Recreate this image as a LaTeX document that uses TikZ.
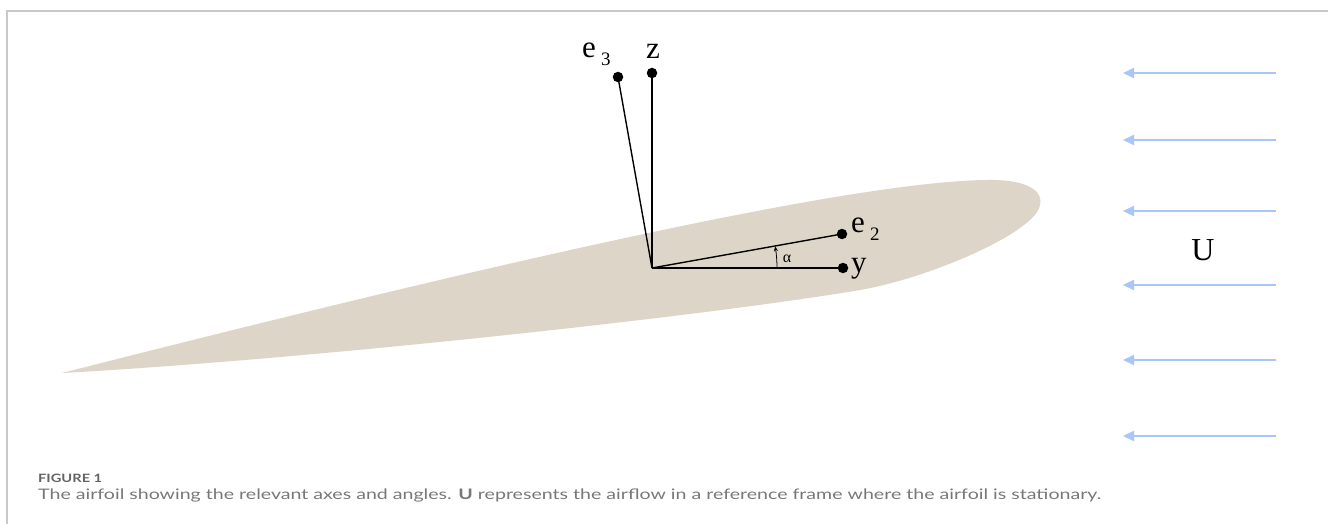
\documentclass[tikz,border=0pt]{standalone}
\usepackage{fontspec}
\usepackage{graphicx}
\setmainfont{Liberation Serif}
\newfontfamily\capfont{Lato}
\usetikzlibrary{arrows.meta}
\definecolor{foil}{RGB}{221,214,200}
\definecolor{flowblue}{RGB}{168,198,250}
\definecolor{framegray}{RGB}{200,200,200}
\definecolor{capgray}{RGB}{120,120,120}
\definecolor{figgray}{RGB}{100,100,100}
\newcommand\subs[1]{\raisebox{-8pt}{\fontsize{19}{19}\selectfont#1}}
\begin{document}
\begin{tikzpicture}[x=1pt,y=-1pt,
  axis/.style={line width=1.4pt, black},
  dot/.style={circle, fill=black, inner sep=0pt, minimum size=10.5pt},
  lbl/.style={font=\fontsize{31}{31}\selectfont, inner sep=0pt},
  flow/.style={line width=2.2pt, flowblue, -{Triangle[length=11pt,width=10pt]}},
]
\useasboundingbox (0,0) rectangle (1328,524);
\fill[white] (0,0) rectangle (1328,524);
\draw[framegray, line width=1.5pt] (7,524) -- (7,11) -- (1328,11);
% airfoil
\fill[foil] (62,373) .. controls (420,282) and (850,178) .. (995,180)
  .. controls (1033,181) and (1043,194) .. (1040,205)
  .. controls (1036,232) and (930,278) .. (860,290)
  .. controls (700,317) and (300,360) .. (62,373) -- cycle;
% axes
\coordinate (O) at (652,268);
\node[dot] (zd) at (652,73) {};
\node[dot] (e3d) at (618,77) {};
\node[dot] (e2d) at (842,234) {};
\node[dot] (yd) at (843,268) {};
\draw[axis] (O) -- (zd.center);
\draw[axis] (O) -- (e3d.center);
\draw[axis] (O) -- (e2d.center);
\draw[axis] (O) -- (yd.center);
\draw[line width=0.8pt, -{Stealth[length=5pt,width=4pt]}] ([shift={(125,0)}]O) arc[start angle=0, end angle=-10, radius=125];
\node[font=\fontsize{16}{16}\selectfont, inner sep=0pt] (al) at (787,259) {α};
% labels
\node[lbl, anchor=base] (zl) at (653,59) {z};
\node[lbl, anchor=base west] (e3l) at (582,58) {e\,\subs{3}};
\node[lbl, anchor=base west] (e2l) at (851,232) {e\,\subs{2}};
\node[lbl, anchor=base west] (yl) at (851,272) {y};
% flow
\foreach \i/\yy in {1/73,2/140,3/211,4/285,5/360,6/436}{
  \coordinate (t\i) at (1276,\yy);
  \coordinate (h\i) at (1123,\yy);
  \draw[flow] (t\i) -- (h\i);
}
\node[font=\fontsize{32}{32}\selectfont, inner sep=0pt] (U) at (1203,250) {U};
% caption
\node[anchor=base west, inner sep=0pt, text=figgray, font=\capfont\bfseries\fontsize{11.5}{11.5}\selectfont] (fig) at (38,482) {\resizebox{64pt}{\height}{FIGURE 1}};
\node[anchor=base west, inner sep=0pt, text=capgray, font=\capfont\fontsize{14.5}{14.5}\selectfont] (cap) at (38,499) {\resizebox{1063pt}{\height}{The airfoil showing the relevant axes and angles. \textbf{U} represents the airflow in a reference frame where the airfoil is stationary.}};
\end{tikzpicture}
\end{document}
